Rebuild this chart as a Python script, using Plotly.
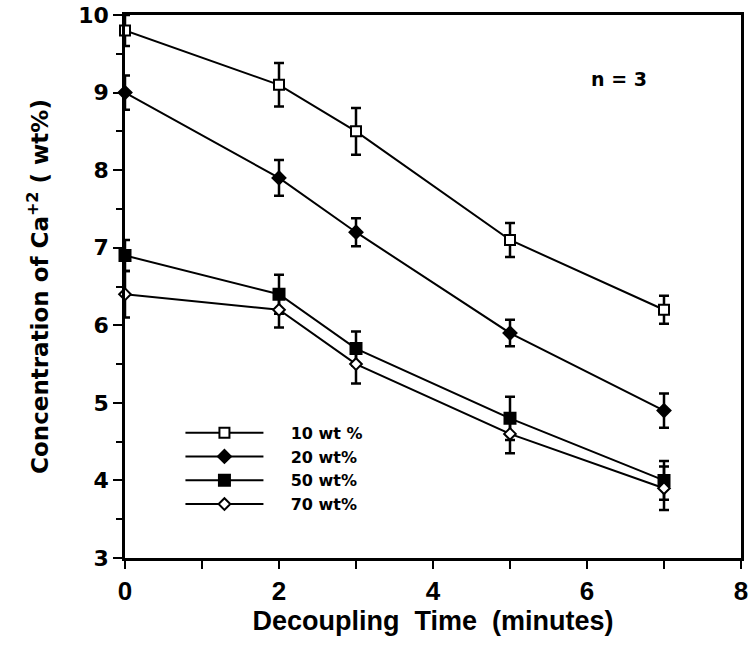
import plotly.graph_objects as go

time_min = [0, 2, 3, 5, 7]

series_names = ["10 wt %", "20 wt%", "50 wt%", "70 wt%"]
conc_10 = [9.8, 9.1, 8.5, 7.1, 6.2]
err_10 = [0.2, 0.28, 0.3, 0.22, 0.18]
conc_20 = [9.0, 7.9, 7.2, 5.9, 4.9]
err_20 = [0.22, 0.23, 0.18, 0.17, 0.22]
conc_50 = [6.9, 6.4, 5.7, 4.8, 4.0]
err_50 = [0.2, 0.25, 0.22, 0.28, 0.25]
conc_70 = [6.4, 6.2, 5.5, 4.6, 3.9]
err_70 = [0.3, 0.23, 0.25, 0.25, 0.28]

x_tick_vals = [0, 2, 4, 6, 8]
y_tick_vals = [3, 4, 5, 6, 7, 8, 9, 10]

styles = [
    dict(symbol="square", color="white", size=10),
    dict(symbol="diamond", color="black", size=10),
    dict(symbol="square", color="black", size=11),
    dict(symbol="diamond", color="white", size=9),
]

NB = "\u00a0"

fig = go.Figure()
for name, ys, es, st in zip(series_names, [conc_10, conc_20, conc_50, conc_70],
                            [err_10, err_20, err_50, err_70], styles):
    fig.add_trace(go.Scatter(
        x=time_min, y=ys, name=NB * 4 + name, mode="lines+markers",
        line=dict(color="black", width=2),
        marker=dict(symbol=st["symbol"], size=st["size"], color=st["color"],
                    line=dict(color="black", width=2)),
        error_y=dict(type="data", array=es, visible=True, color="black",
                     thickness=2.5, width=5),
        cliponaxis=False,
    ))

wide = "DejaVu Sans, Verdana, sans-serif"
narrow = "Liberation Sans Narrow, Liberation Sans, Arial, sans-serif"
plain = "Liberation Sans, Arial, sans-serif"

fig.update_layout(
    template="none",
    width=751, height=648,
    margin=dict(l=125, r=10, t=15, b=90, autoexpand=False),
    paper_bgcolor="white", plot_bgcolor="white",
    font=dict(family=plain, color="black"),
    showlegend=True,
    legend=dict(x=0.09, y=0.262, xanchor="left", yanchor="top",
                bgcolor="rgba(0,0,0,0)", borderwidth=0, itemwidth=78, tracegroupgap=0,
                font=dict(family=wide, size=16, color="black", weight="bold")),
    xaxis=dict(range=[0, 8], tickvals=x_tick_vals, ticktext=[str(v) for v in x_tick_vals],
               automargin=False, ticklabeloverflow="allow",
               showgrid=False, zeroline=False, showline=True, linecolor="black",
               linewidth=2.5, mirror=True, ticks="outside", ticklen=8, tickwidth=2,
               tickcolor="black",
               minor=dict(dtick=1, ticks="outside", ticklen=8, tickwidth=2, tickcolor="black"),
               tickfont=dict(size=26, family=narrow, weight="bold", color="black"),
               title=dict(text="Decoupling" + NB * 2 + "Time" + NB * 2 + "(minutes)", standoff=0,
                          font=dict(size=27, family=narrow, weight="bold", color="black"))),
    yaxis=dict(range=[3, 10], tickvals=y_tick_vals, ticktext=[str(v) for v in y_tick_vals],
               automargin=False, ticklabeloverflow="allow",
               showgrid=False, zeroline=False, showline=True, linecolor="black",
               linewidth=2.5, mirror=True, ticks="outside", ticklen=9, tickwidth=2,
               tickcolor="black",
               minor=dict(dtick=0.5, ticks="outside", ticklen=6, tickwidth=2, tickcolor="black"),
               tickfont=dict(size=22, family=wide, weight="bold", color="black"),
               title=dict(text="Concentration of Ca<sup>+2</sup>" + NB + "(" + NB + "wt%)",
                          standoff=24,
                          font=dict(size=23, family=wide, weight="bold", color="black"))),
    annotations=[dict(x=6.42, y=9.17, xref="x", yref="y", text="n" + NB + "=" + NB + "3", showarrow=False,
                      font=dict(size=19, family=wide, weight="bold", color="black"))],
)

fig.write_html("out.html",
               config={"displayModeBar": False},
               post_script="document.body.style.margin='0';document.body.style.overflow='hidden';")
